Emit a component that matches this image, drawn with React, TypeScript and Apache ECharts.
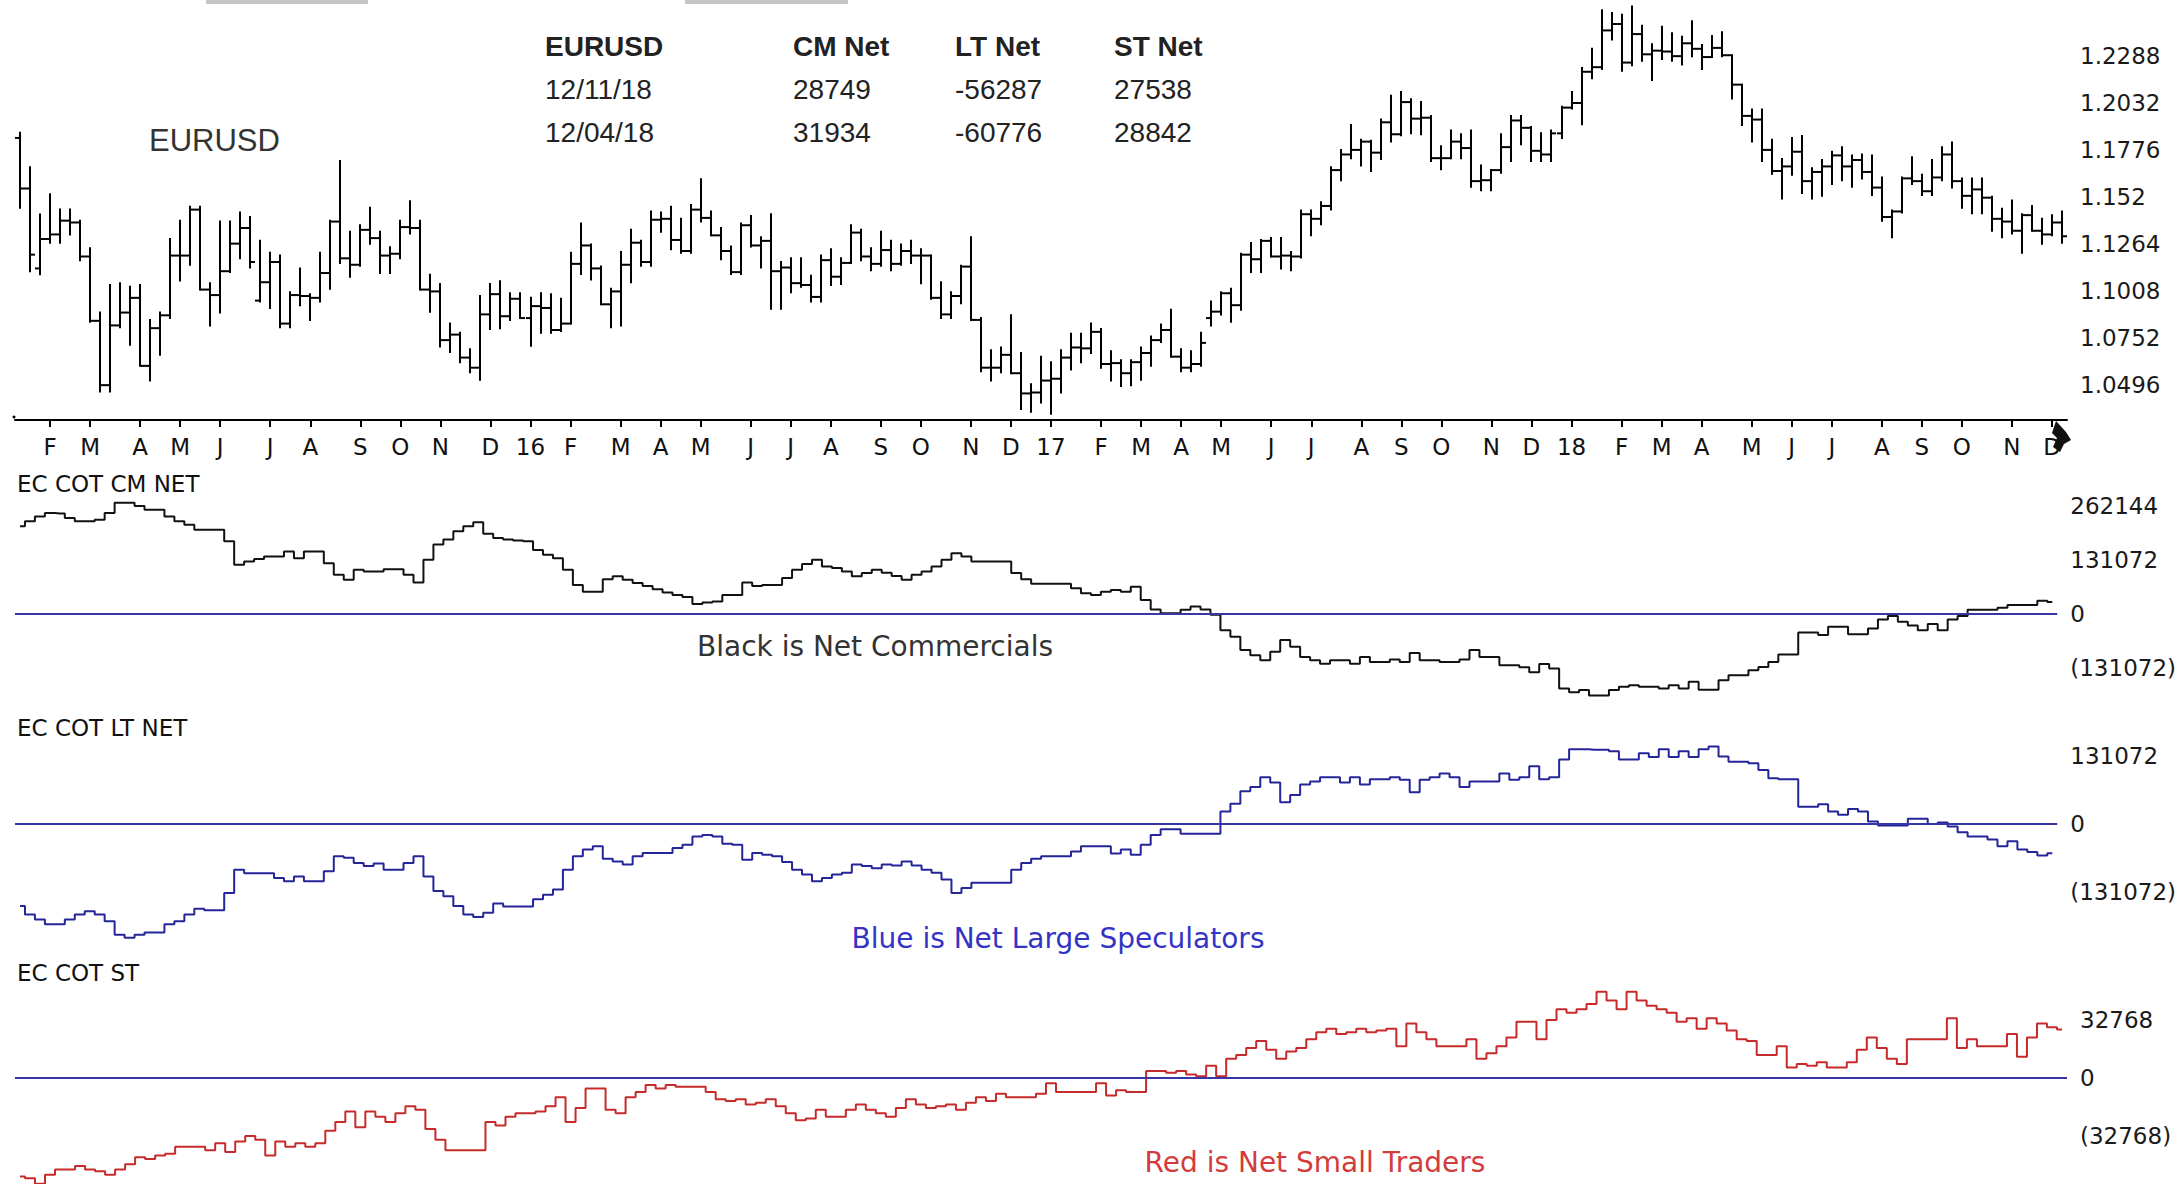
import React, { useEffect, useRef } from "react";
import * as echarts from "echarts";

// ---------- data ----------
// Weekly EURUSD bars, week of 2015-01-12 .. week of 2018-12-10: [open, high, low, close]
const priceOHLC: number[][] = [
  [1.1840,1.1868,1.1460,1.1565],[1.1565,1.1680,1.1115,1.1205],[1.1130,1.1423,1.1098,1.1290],[1.1290,1.1534,1.1270,1.1315],
  [1.1315,1.1450,1.1270,1.1390],[1.1390,1.1450,1.1315,1.1380],[1.1380,1.1390,1.1175,1.1195],[1.1195,1.1240,1.0840,1.0845],
  [1.0845,1.0890,1.0460,1.0495],[1.0495,1.1040,1.0460,1.0820],[1.0820,1.1050,1.0810,1.0890],[1.0890,1.1030,1.0715,1.0970],
  [1.0970,1.1040,1.0600,1.0600],[1.0600,1.0850,1.0520,1.0805],[1.0805,1.0890,1.0660,1.0875],[1.0875,1.1290,1.0860,1.1200],
  [1.1200,1.1390,1.1065,1.1200],[1.1200,1.1465,1.1150,1.1450],[1.1450,1.1465,1.1015,1.1015],[1.1015,1.1050,1.0820,1.0985],
  [1.0985,1.1385,1.0890,1.1115],[1.1115,1.1385,1.1110,1.1265],[1.1265,1.1435,1.1185,1.1350],[1.1350,1.1410,1.1135,1.1165],
  [1.0955,1.1280,1.0950,1.1055],[1.1055,1.1215,1.0915,1.1165],[1.1165,1.1200,1.0810,1.0830],[1.0830,1.1000,1.0810,1.0985],
  [1.0985,1.1130,1.0930,1.0980],[1.0980,1.0990,1.0850,1.0970],[1.0970,1.1215,1.0950,1.1105],[1.1105,1.1390,1.1020,1.1385],
  [1.1385,1.1715,1.1160,1.1185],[1.1185,1.1330,1.1085,1.1150],[1.1150,1.1365,1.1145,1.1340],[1.1340,1.1460,1.1265,1.1295],
  [1.1295,1.1330,1.1105,1.1200],[1.1200,1.1245,1.1105,1.1210],[1.1210,1.1390,1.1185,1.1355],[1.1355,1.1495,1.1320,1.1350],
  [1.1350,1.1390,1.1015,1.1015],[1.1015,1.1095,1.0895,1.1005],[1.1005,1.1045,1.0705,1.0740],[1.0740,1.0830,1.0675,1.0770],
  [1.0770,1.0780,1.0620,1.0645],[1.0645,1.0690,1.0565,1.0590],[1.0590,1.0980,1.0525,1.0880],[1.0880,1.1045,1.0800,1.0990],
  [1.0990,1.1060,1.0805,1.0870],[1.0870,1.0995,1.0850,1.0965],[1.0965,1.0995,1.0860,1.0860],
  [1.0860,1.0970,1.0710,1.0925],[1.0925,1.0995,1.0780,1.0915],[1.0915,1.0990,1.0780,1.0795],[1.0795,1.0965,1.0790,1.0830],
  [1.0830,1.1215,1.0830,1.1155],[1.1155,1.1375,1.1100,1.1255],[1.1255,1.1260,1.1070,1.1130],[1.1130,1.1140,1.0935,1.0935],
  [1.0935,1.1020,1.0810,1.1005],[1.1005,1.1220,1.0820,1.1150],[1.1150,1.1340,1.1055,1.1270],[1.1270,1.1280,1.1145,1.1165],
  [1.1165,1.1440,1.1145,1.1395],[1.1395,1.1435,1.1330,1.1400],[1.1400,1.1465,1.1235,1.1285],[1.1285,1.1400,1.1215,1.1225],
  [1.1225,1.1475,1.1215,1.1450],[1.1450,1.1615,1.1385,1.1405],[1.1405,1.1440,1.1310,1.1310],[1.1310,1.1350,1.1180,1.1225],
  [1.1225,1.1250,1.1100,1.1110],[1.1110,1.1375,1.1100,1.1365],[1.1365,1.1415,1.1250,1.1255],[1.1255,1.1300,1.1135,1.1280],
  [1.1280,1.1425,1.0910,1.1115],[1.1115,1.1165,1.0910,1.1135],[1.1135,1.1185,1.1000,1.1050],[1.1050,1.1185,1.1030,1.1040],
  [1.1040,1.1090,1.0950,1.0975],[1.0975,1.1200,1.0950,1.1175],[1.1175,1.1235,1.1040,1.1085],[1.1085,1.1185,1.1045,1.1160],
  [1.1160,1.1365,1.1160,1.1325],[1.1325,1.1340,1.1175,1.1195],[1.1195,1.1240,1.1120,1.1155],[1.1155,1.1330,1.1145,1.1230],
  [1.1230,1.1280,1.1120,1.1155],[1.1155,1.1260,1.1150,1.1225],[1.1225,1.1280,1.1160,1.1200],[1.1200,1.1235,1.1050,1.1200],
  [1.1200,1.1200,1.0965,1.0970],[1.0970,1.1055,1.0860,1.0880],[1.0880,1.1000,1.0860,1.0980],[1.0980,1.1145,1.0940,1.1140],
  [1.1140,1.1300,1.0850,1.0850],[1.0850,1.0860,1.0570,1.0590],[1.0590,1.0685,1.0520,1.0590],[1.0590,1.0700,1.0565,1.0660],
  [1.0660,1.0875,1.0560,1.0560],[1.0560,1.0670,1.0365,1.0450],[1.0450,1.0500,1.0350,1.0455],[1.0455,1.0650,1.0400,1.0520],
  [1.0520,1.0620,1.0340,1.0530],[1.0530,1.0685,1.0455,1.0645],[1.0645,1.0775,1.0580,1.0700],[1.0700,1.0775,1.0620,1.0695],
  [1.0695,1.0830,1.0670,1.0785],[1.0785,1.0800,1.0590,1.0610],[1.0610,1.0680,1.0520,1.0615],[1.0615,1.0630,1.0490,1.0560],
  [1.0560,1.0630,1.0495,1.0620],[1.0620,1.0700,1.0525,1.0670],[1.0670,1.0760,1.0600,1.0740],[1.0740,1.0825,1.0730,1.0795],
  [1.0795,1.0905,1.0650,1.0650],[1.0650,1.0690,1.0570,1.0590],[1.0590,1.0680,1.0570,1.0610],[1.0610,1.0780,1.0600,1.0725],
  [1.0860,1.0950,1.0820,1.0895],[1.0895,1.1000,1.0880,1.0995],[1.0995,1.1020,1.0840,1.0930],[1.0930,1.1210,1.0905,1.1205],
  [1.1205,1.1268,1.1110,1.1180],[1.1180,1.1285,1.1110,1.1280],[1.1280,1.1295,1.1195,1.1195],[1.1195,1.1295,1.1130,1.1200],
  [1.1200,1.1220,1.1120,1.1195],[1.1195,1.1445,1.1190,1.1425],[1.1425,1.1445,1.1310,1.1400],[1.1400,1.1490,1.1370,1.1470],
  [1.1470,1.1680,1.1450,1.1665],[1.1665,1.1775,1.1610,1.1750],[1.1750,1.1910,1.1730,1.1775],[1.1775,1.1830,1.1690,1.1820],
  [1.1820,1.1825,1.1660,1.1760],[1.1760,1.1940,1.1725,1.1925],[1.1925,1.2070,1.1820,1.1860],[1.1860,1.2090,1.1855,1.2035],
  [1.2035,1.2050,1.1865,1.1945],[1.1945,1.2035,1.1860,1.1950],[1.1950,1.1960,1.1715,1.1730],[1.1730,1.1795,1.1670,1.1730],
  [1.1730,1.1880,1.1730,1.1820],[1.1820,1.1860,1.1730,1.1785],[1.1785,1.1880,1.1575,1.1605],[1.1605,1.1690,1.1555,1.1610],
  [1.1610,1.1665,1.1555,1.1665],[1.1665,1.1860,1.1650,1.1790],[1.1790,1.1960,1.1715,1.1935],[1.1935,1.1960,1.1805,1.1895],
  [1.1895,1.1900,1.1715,1.1770],[1.1770,1.1865,1.1715,1.1750],[1.1750,1.1880,1.1715,1.1865],[1.1865,1.2010,1.1840,1.2005],
  [1.2005,1.2090,1.2000,1.2030],[1.2030,1.2220,1.1915,1.2200],[1.2200,1.2325,1.2165,1.2225],[1.2225,1.2535,1.2215,1.2425],
  [1.2425,1.2520,1.2375,1.2460],[1.2460,1.2510,1.2205,1.2250],[1.2250,1.2555,1.2235,1.2405],[1.2405,1.2450,1.2260,1.2295],
  [1.2295,1.2350,1.2155,1.2315],[1.2315,1.2445,1.2270,1.2310],[1.2310,1.2410,1.2260,1.2285],[1.2285,1.2390,1.2240,1.2355],
  [1.2355,1.2475,1.2285,1.2325],[1.2325,1.2345,1.2215,1.2280],[1.2280,1.2395,1.2280,1.2330],[1.2330,1.2415,1.2285,1.2290],
  [1.2290,1.2290,1.2055,1.2130],[1.2130,1.2130,1.1910,1.1960],[1.1960,1.1995,1.1820,1.1940],[1.1940,1.1995,1.1715,1.1775],
  [1.1775,1.1830,1.1645,1.1660],[1.1660,1.1725,1.1510,1.1685],[1.1685,1.1840,1.1640,1.1765],[1.1765,1.1850,1.1540,1.1605],
  [1.1605,1.1675,1.1510,1.1655],[1.1655,1.1720,1.1525,1.1685],[1.1685,1.1765,1.1590,1.1745],[1.1745,1.1790,1.1610,1.1685],
  [1.1685,1.1745,1.1575,1.1720],[1.1720,1.1750,1.1620,1.1655],[1.1655,1.1745,1.1530,1.1570],[1.1570,1.1625,1.1390,1.1410],
  [1.1410,1.1445,1.1300,1.1440],[1.1440,1.1625,1.1435,1.1620],[1.1620,1.1735,1.1590,1.1605],[1.1605,1.1640,1.1530,1.1550],
  [1.1550,1.1720,1.1530,1.1625],[1.1625,1.1790,1.1610,1.1750],[1.1750,1.1815,1.1570,1.1605],[1.1605,1.1620,1.1460,1.1525],
  [1.1525,1.1620,1.1430,1.1560],[1.1560,1.1620,1.1430,1.1515],[1.1515,1.1520,1.1335,1.1400],[1.1400,1.1455,1.1300,1.1385],
  [1.1385,1.1500,1.1320,1.1335],[1.1335,1.1425,1.1215,1.1420],[1.1420,1.1470,1.1335,1.1335],[1.1335,1.1400,1.1265,1.1315],
  [1.1315,1.1420,1.1310,1.1380],[1.1380,1.1440,1.1270,1.1305],
];

const cmNet: number[] = [
  212000,224000,236000,244000,243000,232000,224000,224000,228000,244000,
  269000,269000,261000,252000,252000,236000,224000,216000,204000,204000,
  204000,176000,119000,127000,133000,139000,139000,151000,135000,151000,
  151000,123000,95000,83000,107000,103000,103000,108000,108000,95000,
  76000,131000,168000,180000,200000,212000,222000,194000,184000,180000,
  178000,176000,155000,143000,135000,107000,70000,54000,54000,84000,
  91000,83000,75000,68000,60000,52000,46000,41000,24000,28000,
  30000,46000,46000,76000,68000,70000,70000,87000,107000,121000,
  131000,115000,111000,103000,91000,99000,107000,100000,92000,83000,
  95000,103000,115000,131000,147000,139000,127000,127000,127000,127000,
  99000,84000,73000,73000,73000,73000,62000,50000,46000,54000,
  58000,54000,66000,34000,11000,2000,2000,10000,18000,11000,
  -2000,-39000,-55000,-87000,-100000,-112000,-91000,-63000,-79000,-104000,
  -112000,-120000,-112000,-112000,-120000,-104000,-116000,-116000,-110000,-116000,
  -94000,-112000,-112000,-116000,-116000,-110000,-87000,-104000,-104000,-124000,
  -124000,-129000,-141000,-121000,-132000,-180000,-189000,-184000,-197000,-197000,
  -184000,-176000,-172000,-176000,-176000,-180000,-172000,-180000,-164000,-183000,
  -183000,-160000,-148000,-148000,-136000,-128000,-116000,-98000,-98000,-45000,
  -45000,-51000,-31000,-31000,-49000,-49000,-35000,-13000,-5000,-19000,
  -28000,-39000,-24000,-39000,-13000,-5000,10000,10000,10000,15000,
  22000,22000,22000,31934,28749,
];

const ltNet: number[] = [
  -158000,-174000,-184000,-193000,-193000,-184000,-174000,-168000,-174000,-187000,
  -213000,-219000,-213000,-209000,-209000,-193000,-187000,-174000,-163000,-166000,
  -166000,-133000,-88000,-95000,-95000,-95000,-104000,-110000,-101000,-110000,
  -110000,-91000,-62000,-65000,-75000,-81000,-76000,-88000,-88000,-75000,
  -62000,-101000,-129000,-139000,-158000,-174000,-179000,-171000,-153000,-159000,
  -159000,-159000,-145000,-136000,-126000,-88000,-62000,-49000,-43000,-67000,
  -72000,-78000,-62000,-56000,-56000,-56000,-46000,-40000,-24000,-21000,
  -24000,-38000,-40000,-69000,-56000,-59000,-62000,-73000,-88000,-97000,
  -110000,-104000,-97000,-94000,-78000,-81000,-85000,-78000,-80000,-72000,
  -80000,-88000,-94000,-107000,-133000,-123000,-113000,-113000,-113000,-113000,
  -88000,-75000,-67000,-62000,-62000,-62000,-53000,-43000,-43000,-43000,
  -57000,-49000,-59000,-40000,-21000,-10000,-10000,-19000,-19000,-19000,
  -19000,24000,39000,63000,71000,90000,80000,42000,56000,76000,
  82000,90000,90000,80000,90000,76000,86000,86000,90000,85000,
  61000,85000,90000,97000,90000,71000,82000,82000,82000,97000,
  85000,90000,111000,86000,90000,124000,144000,144000,143000,143000,
  140000,124000,124000,136000,129000,144000,129000,140000,129000,144000,
  149000,130000,120000,120000,117000,104000,88000,86000,86000,33000,
  33000,38000,24000,18000,29000,24000,5000,-3000,-3000,-3000,
  10000,10000,0,3000,-5000,-16000,-24000,-24000,-30000,-43000,
  -33000,-49000,-54000,-60776,-56287,
];

const stNet: number[] = [
  -56000,-57000,-60000,-55000,-52000,-52000,-50000,-52000,-53000,-55000,
  -52000,-49000,-45000,-46000,-44000,-43000,-39000,-39000,-39000,-41000,
  -37000,-42000,-36000,-33000,-35000,-44000,-36000,-39000,-37000,-39000,
  -37000,-30000,-25000,-19000,-28000,-19000,-22000,-25000,-20000,-16000,
  -18000,-29000,-35000,-41000,-41000,-41000,-41000,-25000,-27000,-22000,
  -20000,-20000,-19000,-16000,-11000,-25000,-17000,-6000,-6000,-18000,
  -20000,-11000,-8000,-4000,-6000,-4000,-5000,-5000,-5000,-8000,
  -12000,-13000,-12000,-15000,-14000,-12000,-16000,-20000,-24000,-23000,
  -18000,-22000,-22000,-18000,-15000,-18000,-20000,-22000,-17000,-12000,
  -15000,-17000,-16000,-15000,-18000,-14000,-11000,-13000,-9000,-11000,
  -11000,-11000,-9000,-3000,-8000,-8000,-8000,-8000,-3000,-10000,
  -7000,-8000,-8000,4000,4000,3000,4000,2000,1000,7000,
  1000,11000,13000,17000,21000,16000,11000,15000,17000,22000,
  26000,28000,25000,26000,28000,26000,27000,28000,18000,31000,
  26000,22000,18000,18000,18000,22000,11000,14000,18000,23000,
  32000,32000,22000,33000,39000,37000,39000,42000,49000,44000,
  39000,49000,44000,41000,39000,37000,32000,34000,28000,34000,
  31000,27000,22000,21000,13000,13000,18000,6000,8000,7000,
  9000,6000,6000,9000,16000,23000,17000,11000,8000,22000,
  22000,22000,22000,34000,17000,22000,18000,18000,18000,25000,
  12000,23000,31000,28842,27538,
];

const priceTicks = [1.0496, 1.0752, 1.1008, 1.1264, 1.152, 1.1776, 1.2032, 1.2288];
const cmTicks = [262144, 131072, 0, -131072];
const ltTicks = [131072, 0, -131072];
const stTicks = [32768, 0, -32768];

const tableHeader = ["EURUSD", "CM Net", "LT Net", "ST Net"];
const tableRows = [
  ["12/11/18", "28749", "-56287", "27538"],
  ["12/04/18", "31934", "-60776", "28842"],
];

const MONTH_LETTERS = ["J", "F", "M", "A", "M", "J", "J", "A", "S", "O", "N", "D"];
const FIRST_WEEK_UTC = Date.UTC(2015, 0, 12);
const WEEK_MS = 7 * 86400000;

// ---------- derived categories ----------
const weekDates = priceOHLC.map((_, i) => new Date(FIRST_WEEK_UTC + i * WEEK_MS));
const categories = weekDates.map((d) => d.toISOString().slice(0, 10));
const monthLabels = weekDates.map((d, i) => {
  if (i === 0) return "";
  if (weekDates[i - 1].getUTCMonth() === d.getUTCMonth()) return "";
  return d.getUTCMonth() === 0 ? String(d.getUTCFullYear() % 100) : MONTH_LETTERS[d.getUTCMonth()];
});

const RIGHT_FONT = "DejaVu Sans";
const GRID_LEFT = 15;
const GRID_WIDTH = 2052;

function cotFmt(v: number) {
  return v < 0 ? `(${-v})` : `${v}`;
}

export default function App() {
  const ref = useRef<HTMLDivElement>(null);

  useEffect(() => {
    document.body.style.margin = "0";
    if (!ref.current) return;
    const chart = echarts.init(ref.current, undefined, { renderer: "svg" });

    const hiddenX = (gi: number) => ({
      type: "category" as const,
      gridIndex: gi,
      data: categories,
      boundaryGap: true,
      show: false,
    });

    const rightLabel = {
      margin: 13,
      color: "#1a1a1a",
      fontFamily: RIGHT_FONT,
      fontSize: 23,
    };

    const zeroLine = {
      silent: true,
      symbol: ["none", "none"],
      label: { show: false },
      lineStyle: { color: "#3636a6", width: 2, type: "solid" },
      data: [{ yAxis: 0 }],
    };

    const mid = { textVerticalAlign: "middle", verticalAlign: "middle" };
    const ctr = { textAlign: "center", align: "center", textVerticalAlign: "middle", verticalAlign: "middle" };

    const texts: any[] = [
      { type: "rect", shape: { x: 206, y: 0, width: 162, height: 4 }, style: { fill: "#c6c6c6" } },
      { type: "rect", shape: { x: 685, y: 0, width: 163, height: 4 }, style: { fill: "#c6c6c6" } },
      { type: "circle", shape: { cx: 14, cy: 417, r: 1.5 }, style: { fill: "#000" } },
      {
        type: "polygon",
        shape: { points: [[2056, 421], [2066, 432], [2071, 440], [2064, 444], [2060, 452], [2053, 447], [2057, 438], [2052, 433]] },
        style: { fill: "#111" },
      },
      { type: "text", x: 149, y: 140, style: { text: "EURUSD", fill: "#333", font: '31px "Liberation Sans", Arial, sans-serif', ...mid } },
      { type: "text", x: 17, y: 484, style: { text: "EC COT CM NET", fill: "#111", font: `23px "${RIGHT_FONT}"`, ...mid } },
      { type: "text", x: 17, y: 728, style: { text: "EC COT LT NET", fill: "#111", font: `23px "${RIGHT_FONT}"`, ...mid } },
      { type: "text", x: 17, y: 973, style: { text: "EC COT ST", fill: "#111", font: `23px "${RIGHT_FONT}"`, ...mid } },
      { type: "text", x: 875, y: 646, style: { text: "Black is Net Commercials", fill: "#333", font: '28px "DejaVu Sans"', ...ctr } },
      { type: "text", x: 1058, y: 938, style: { text: "Blue is Net Large Speculators", fill: "#3434c4", font: '28px "DejaVu Sans"', ...ctr } },
      { type: "text", x: 1315, y: 1162, style: { text: "Red is Net Small Traders", fill: "#d23c3c", font: '28px "DejaVu Sans"', ...ctr } },
    ];
    const colX = [545, 793, 955, 1114];
    const rowY = [46, 89, 132];
    tableHeader.forEach((t, c) => {
      texts.push({
        type: "text", x: colX[c], y: rowY[0],
        style: { text: t, fill: "#222", font: 'bold 28px "Liberation Sans", Arial, sans-serif', ...mid },
      });
    });
    tableRows.forEach((row, r) => {
      row.forEach((t, c) => {
        texts.push({
          type: "text", x: colX[c], y: rowY[r + 1],
          style: { text: t, fill: "#222", font: '28px "Liberation Sans", Arial, sans-serif', ...mid },
        });
      });
    });

    const option: any = {
      animation: false,
      backgroundColor: "#ffffff",
      grid: [
        { left: GRID_LEFT, width: GRID_WIDTH, top: 0, height: 420 },
        { left: GRID_LEFT, width: GRID_WIDTH, top: 470, height: 230 },
        { left: GRID_LEFT, width: GRID_WIDTH, top: 740, height: 220 },
        { left: GRID_LEFT, width: GRID_WIDTH, top: 960, height: 224 },
      ],
      xAxis: [
        {
          type: "category",
          gridIndex: 0,
          data: categories,
          boundaryGap: true,
          axisLine: { show: true, lineStyle: { color: "#000", width: 2 } },
          axisTick: {
            show: true,
            alignWithLabel: true,
            length: 7,
            interval: (idx: number) => monthLabels[idx] !== "",
            lineStyle: { color: "#000", width: 2 },
          },
          axisLabel: {
            interval: (idx: number) => monthLabels[idx] !== "",
            formatter: (_v: string, idx: number) => monthLabels[idx],
            margin: 15,
            color: "#111",
            fontFamily: RIGHT_FONT,
            fontSize: 23,
          },
          splitLine: { show: false },
        },
        hiddenX(1),
        hiddenX(2),
        hiddenX(3),
      ],
      yAxis: [
        {
          type: "value", gridIndex: 0, position: "right",
          min: 1.03054, max: 1.25905,
          axisLine: { show: false }, axisTick: { show: false }, splitLine: { show: false },
          axisLabel: { ...rightLabel, customValues: priceTicks, formatter: (v: number) => String(Number(v.toFixed(4))) },
        },
        {
          type: "value", gridIndex: 1, position: "right",
          min: -207948, max: 348192,
          axisLine: { show: false }, axisTick: { show: false }, splitLine: { show: false },
          axisLabel: { ...rightLabel, customValues: cmTicks, formatter: cotFmt },
        },
        {
          type: "value", gridIndex: 2, position: "right",
          min: -261800, max: 161700,
          axisLine: { show: false }, axisTick: { show: false }, splitLine: { show: false },
          axisLabel: { ...rightLabel, customValues: ltTicks, formatter: cotFmt },
        },
        {
          type: "value", gridIndex: 3, position: "right",
          min: -60197, max: 67012,
          axisLine: { show: false }, axisTick: { show: false }, splitLine: { show: false },
          axisLabel: { ...rightLabel, customValues: stTicks, formatter: cotFmt },
        },
      ],
      series: [
        {
          type: "custom",
          name: "EURUSD",
          xAxisIndex: 0,
          yAxisIndex: 0,
          data: priceOHLC.map((d, i) => [i, d[0], d[1], d[2], d[3]]),
          encode: { x: 0, y: [1, 2, 3, 4] },
          renderItem: (_params: any, api: any) => {
            const i = api.value(0);
            const pO = api.coord([i, api.value(1)]);
            const pH = api.coord([i, api.value(2)]);
            const pL = api.coord([i, api.value(3)]);
            const pC = api.coord([i, api.value(4)]);
            const x = Math.round(pH[0]);
            const t = 5;
            const st = { stroke: "#000", lineWidth: 2 };
            return {
              type: "group",
              children: [
                { type: "line", shape: { x1: x, y1: pH[1] - 1, x2: x, y2: pL[1] + 1 }, style: st },
                { type: "line", shape: { x1: x - t, y1: pO[1], x2: x, y2: pO[1] }, style: st },
                { type: "line", shape: { x1: x, y1: pC[1], x2: x + t, y2: pC[1] }, style: st },
              ],
            };
          },
        },
        {
          type: "line", name: "CM Net", xAxisIndex: 1, yAxisIndex: 1,
          data: cmNet, step: "middle", symbol: "none",
          lineStyle: { color: "#111", width: 2 },
          markLine: zeroLine,
        },
        {
          type: "line", name: "LT Net", xAxisIndex: 2, yAxisIndex: 2,
          data: ltNet, step: "middle", symbol: "none",
          lineStyle: { color: "#25259a", width: 2 },
          markLine: zeroLine,
        },
        {
          type: "line", name: "ST Net", xAxisIndex: 3, yAxisIndex: 3,
          data: stNet, step: "middle", symbol: "none",
          lineStyle: { color: "#c62a2a", width: 2 },
          markLine: zeroLine,
        },
      ],
      graphic: texts,
    };

    chart.setOption(option);
    return () => chart.dispose();
  }, []);

  return <div ref={ref} style={{ width: 2179, height: 1184, overflow: "hidden" }} />;
}
